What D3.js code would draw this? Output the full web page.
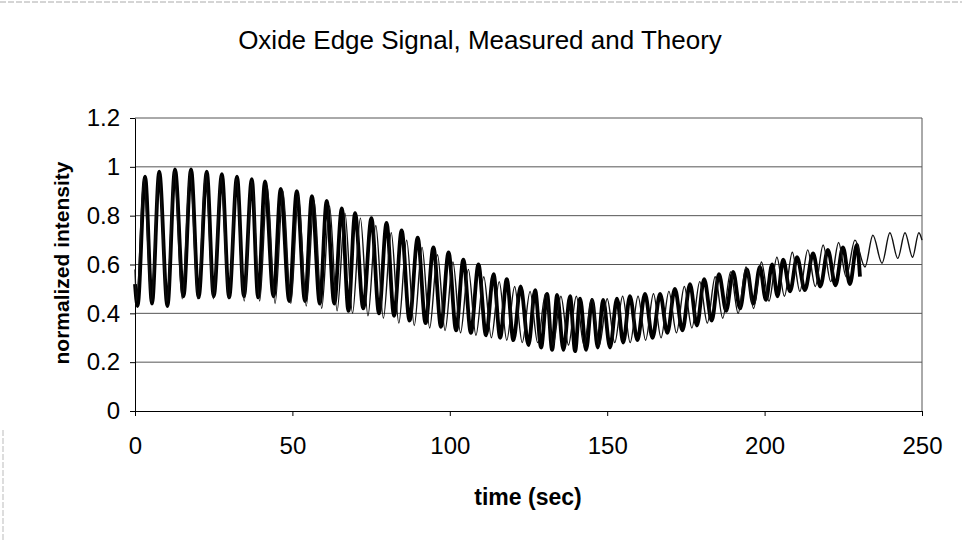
<!DOCTYPE html>
<html>
<head>
	<title>Oxide Edge Signal</title>
	<script src="https://d3js.org/d3.v7.min.js"></script>
	<style type="text/css">
		body {
			margin: 0;
			background: #fff;
		}
		svg {
			display: block;
			font-family: "Liberation Sans", Arial, sans-serif;
		}
		.axis path, .axis line {
			stroke: #000;
		}
		.axis text {
			font-size: 24px;
			fill: #000;
		}
		.grid line {
			stroke: #555;
			stroke-width: 1;
		}
	</style>
</head>
<body>

<div id="chart"></div>

<script>
	// ticks
	var xTicks = [0, 50, 100, 150, 200, 250];
	var yTicks = [0, 0.2, 0.4, 0.6, 0.8, 1, 1.2];
	var yTickLabels = ["0", "0.2", "0.4", "0.6", "0.8", "1", "1.2"];

	// measured signal: peaks and troughs (sec, intensity)
	var measuredTime = [0,0.8,3.2,5.4,7.7,10.3,12.7,15.4,17.8,20.2,22.8,25.0,27.6,29.9,32.4,34.6,37.1,39.1,41.3,44.0,
		46.3,49.0,51.4,54.0,56.2,58.7,60.9,63.3,65.7,67.8,69.9,72.5,75.1,77.5,79.9,82.3,84.7,87.2,89.8,92.3,
		94.8,97.2,99.6,102.0,104.3,106.7,109.1,111.5,113.9,116.0,118.1,120.2,122.5,125.0,127.1,129.0,130.9,132.5,134.1,136.1,
		138.2,139.8,141.4,143.3,145.2,147.0,148.7,150.9,153.1,155.1,157.2,159.6,162.0,164.4,166.8,169.1,171.5,173.9,176.3,178.5,
		180.8,183.2,185.5,187.8,190.0,192.2,194.4,196.4,198.5,200.4,202.4,204.1,205.9,208.1,210.3,212.8,215.4,217.7,220.1,222.5,
		224.9,227.1,229.3,230.3];
	var measuredValue = [0.52,0.43,0.96,0.44,0.98,0.43,0.99,0.47,0.99,0.465,0.98,0.47,0.97,0.465,0.96,0.47,0.95,0.465,0.94,0.47,
		0.91,0.45,0.90,0.45,0.88,0.44,0.86,0.44,0.83,0.41,0.81,0.42,0.79,0.40,0.77,0.39,0.74,0.37,0.71,0.36,
		0.67,0.345,0.65,0.33,0.62,0.32,0.60,0.31,0.56,0.30,0.54,0.29,0.51,0.27,0.495,0.26,0.48,0.25,0.475,0.25,
		0.47,0.245,0.46,0.25,0.455,0.26,0.455,0.26,0.46,0.28,0.47,0.29,0.48,0.30,0.48,0.32,0.50,0.33,0.52,0.35,
		0.54,0.37,0.56,0.41,0.57,0.42,0.58,0.44,0.59,0.455,0.60,0.47,0.62,0.49,0.63,0.495,0.645,0.51,0.66,0.515,
		0.67,0.52,0.68,0.55];

	// theory curve: peaks and troughs
	var theoryTime = [0,0.5,2.8,5.2,7.6,10.1,12.5,15.0,17.5,20.0,22.4,24.9,27.3,29.8,32.2,34.7,37.1,39.6,42.0,44.5,
		47.0,49.5,51.9,54.4,56.9,59.3,61.8,64.2,66.7,69.1,71.6,74.0,76.5,78.9,81.4,83.8,86.3,88.7,91.2,93.6,
		96.1,98.5,101.0,103.4,105.9,108.3,110.8,113.2,115.7,118.1,120.6,123.0,125.5,127.9,130.4,132.8,135.3,137.7,140.2,142.6,
		145.1,147.5,150.0,152.4,154.9,157.3,159.8,162.2,164.7,167.1,169.6,172.0,174.5,176.9,179.4,181.8,184.3,186.7,189.2,191.6,
		194.1,196.5,199.0,201.4,203.9,206.3,208.8,211.2,213.7,216.1,218.6,221.0,223.5,225.9,228.7,231.9,234.4,237.3,239.8,242.3,
		244.6,247.0,249.0,250];
	var theoryValue = [0.58,0.45,0.95,0.45,0.97,0.45,0.98,0.46,0.98,0.46,0.97,0.46,0.96,0.46,0.95,0.45,0.94,0.45,0.92,0.44,
		0.90,0.44,0.88,0.43,0.86,0.42,0.84,0.41,0.81,0.40,0.79,0.39,0.76,0.38,0.73,0.36,0.70,0.35,0.67,0.34,
		0.64,0.33,0.61,0.32,0.58,0.31,0.55,0.30,0.53,0.29,0.51,0.28,0.49,0.28,0.48,0.27,0.47,0.27,0.47,0.27,
		0.46,0.27,0.46,0.28,0.47,0.28,0.47,0.29,0.48,0.30,0.49,0.32,0.51,0.34,0.53,0.36,0.55,0.38,0.57,0.40,
		0.59,0.42,0.61,0.45,0.63,0.47,0.65,0.49,0.66,0.51,0.68,0.53,0.69,0.55,0.70,0.59,0.72,0.605,0.73,0.625,
		0.73,0.63,0.73,0.70];

	var width = 962, height = 542;
	var plot = {left: 135, right: 922, top: 118, bottom: 411};

	var svg = d3.select("#chart").append("svg")
		.attr("width", width)
		.attr("height", height);

	// faint chart area border (top and left edge of the page)
	svg.append("line")
		.attr("x1", 0).attr("x2", width).attr("y1", 2).attr("y2", 2)
		.attr("stroke", "#aaa").attr("stroke-dasharray", "6,2");
	svg.append("line")
		.attr("x1", 3).attr("x2", 3).attr("y1", 430).attr("y2", height)
		.attr("stroke", "#bbb").attr("stroke-dasharray", "6,2");

	var x = d3.scaleLinear().domain([0, 250]).range([plot.left, plot.right]);
	var y = d3.scaleLinear().domain([0, 1.2]).range([plot.bottom, plot.top]);

	// horizontal gridlines
	svg.append("g")
		.attr("class", "grid")
		.selectAll("line")
		.data(yTicks.slice(1))
		.enter()
		.append("line")
		.attr("x1", plot.left)
		.attr("x2", plot.right)
		.attr("y1", function(d) { return y(d); })
		.attr("y2", function(d) { return y(d); });

	// right border of plot
	svg.append("line")
		.attr("x1", plot.right).attr("x2", plot.right)
		.attr("y1", plot.top).attr("y2", plot.bottom)
		.attr("stroke", "#555");

	var xAxis = d3.axisBottom(x)
		.tickValues(xTicks)
		.tickSizeInner(5)
		.tickSizeOuter(0)
		.tickPadding(21);

	var yAxis = d3.axisLeft(y)
		.tickValues(yTicks)
		.tickSizeInner(5)
		.tickSizeOuter(0)
		.tickPadding(10)
		.tickFormat(function(d, i) { return yTickLabels[i]; });

	svg.append("g")
		.attr("class", "axis")
		.attr("transform", "translate(0," + plot.bottom + ")")
		.call(xAxis);

	svg.append("g")
		.attr("class", "axis")
		.attr("transform", "translate(" + plot.left + ",0)")
		.call(yAxis);

	var line = d3.line()
		.x(function(d) { return x(d[0]); })
		.y(function(d) { return y(d[1]); })
		.curve(d3.curveMonotoneX);

	// measured (heavy)
	svg.append("path")
		.datum(d3.zip(measuredTime, measuredValue))
		.attr("d", line)
		.attr("fill", "none")
		.attr("stroke", "#000")
		.attr("stroke-width", 3.8)
		.attr("stroke-linejoin", "round");

	// theory (thin)
	svg.append("path")
		.datum(d3.zip(theoryTime, theoryValue))
		.attr("d", line)
		.attr("fill", "none")
		.attr("stroke", "#111")
		.attr("stroke-width", 1.4)
		.attr("stroke-linejoin", "round");

	// title
	svg.append("text")
		.attr("x", 480)
		.attr("y", 49)
		.attr("text-anchor", "middle")
		.style("font-size", "26px")
		.text("Oxide Edge Signal, Measured and Theory");

	// axis titles
	svg.append("text")
		.attr("x", 528)
		.attr("y", 505)
		.attr("text-anchor", "middle")
		.style("font-size", "23px")
		.style("font-weight", "bold")
		.text("time (sec)");

	svg.append("text")
		.attr("transform", "translate(69,263) rotate(-90)")
		.attr("text-anchor", "middle")
		.style("font-size", "21px")
		.style("font-weight", "bold")
		.text("normalized intensity");
</script>

</body>
</html>
